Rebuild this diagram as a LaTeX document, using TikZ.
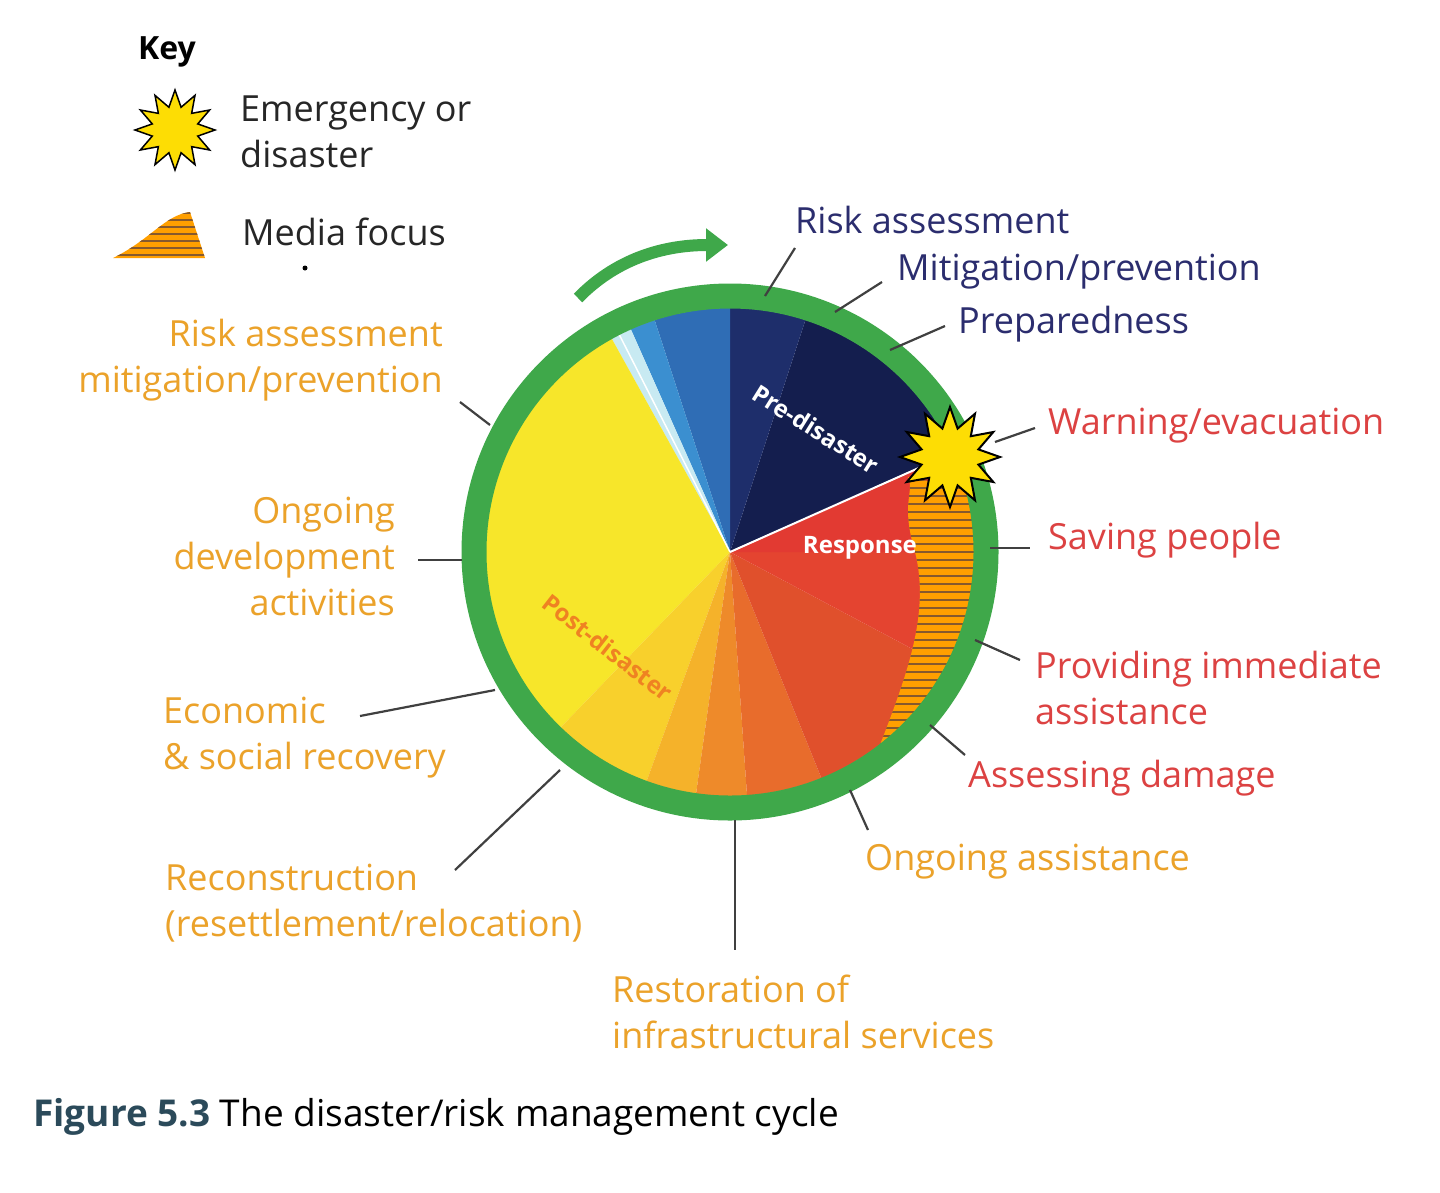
\documentclass[tikz,border=0pt]{standalone}
\usepackage{fontspec}
\setmainfont{Open Sans}
\usetikzlibrary{shapes.geometric,arrows.meta}
\definecolor{navy}{HTML}{2B2D6E}
\definecolor{lorange}{HTML}{EBA22A}
\definecolor{lred}{HTML}{DC4242}
\definecolor{ringgreen}{HTML}{3FA84A}
\tikzset{
  lab/.style={font=\fontsize{36}{46}\selectfont, inner sep=0pt},
  leader/.style={draw=black!75, line width=2.2pt},
  starshape/.style={star, star points=12, star point ratio=1.7, fill=yellow!80!orange, draw=black, line width=2pt}
}
\begin{document}
\begin{tikzpicture}[x=1pt,y=-1pt]
\useasboundingbox[fill=white] (0,0) rectangle (1440,1192);
% ---- pie ----
\begin{scope}[shift={(730,552)},yscale=-1]
  \def\R{244}
  \foreach \a/\b/\c in {24/72/141E4E, 72/90/1E2E6B, 90/108/2F6DB5, 108/114/3B8FD0, 114/119/C8EAF2,
     119/226/F7E62A, 226/250/F8D02C, 250/262/F5B22A, 262/274/EE8A2A, 274/292/E86C2C,
     292/332/E0502C, 332/0/E44430, 0/24/E23A32}{
    \definecolor{tmp}{HTML}{\c}
    \fill[tmp] (0,0) -- (\a:\R) arc[start angle=\a, end angle={\b<\a ? \b+360 : \b}, radius=\R] -- cycle;
  }
  \draw[white, line width=2pt] (0,0) -- (24:\R);
  \draw[white, line width=1.5pt] (0,0) -- (117:\R);
  % media focus
  \begin{scope}
    \clip (15:\R) arc[start angle=15,end angle=-52,radius=\R] .. controls (178,-120) and (200,-60) .. (185,0) .. controls (170,50) and (185,60) .. (178,75) -- cycle;
    \fill[orange!75!yellow] (150,-200) rectangle (250,80);
    \foreach \y in {-200,-192,...,80} \draw[brown!70!black, line width=1.2pt] (150,\y) -- (250,\y);
  \end{scope}
  \draw[ringgreen, line width=25pt] (0,0) circle[radius=256];
  \node[font=\bfseries\fontsize{24}{28}\selectfont, text=white, rotate=-32] at (55:150) {Pre-disaster};
  \node[font=\bfseries\fontsize{24}{28}\selectfont, text=white] at (2:130) {Response};
  \node[font=\bfseries\fontsize{24}{28}\selectfont, text=lorange!80!red, rotate=-38] at (218:155) {Post-disaster};
\end{scope}
\node[starshape, minimum size=100pt] (st) at (950,457) {};
% green arrow
\draw[ringgreen, line width=12pt, -{Triangle[length=22pt,width=32pt]}] (578,298) .. controls (620,255) and (670,245) .. (728,245);
% ---- leaders & labels ----
\foreach \s/\e in {{(765,296)}/{(795,248)}, {(835,312)}/{(882,282)}, {(890,350)}/{(945,326)},
  {(995,442)}/{(1035,428)}, {(990,548)}/{(1030,548)}, {(975,640)}/{(1020,660)}, {(930,725)}/{(965,755)},
  {(850,790)}/{(868,830)}, {(735,820)}/{(735,950)}, {(560,770)}/{(455,870)}, {(495,690)}/{(360,716)},
  {(462,560)}/{(418,560)}, {(490,425)}/{(460,402)}}
  \draw[leader] \s -- \e;
\node[lab, text=navy, anchor=west] (l1) at (795,220) {Risk assessment};
\node[lab, text=navy, anchor=west] (l2) at (897,272) {Mitigation/prevention};
\node[lab, text=navy, anchor=west] (l3) at (958,324) {Preparedness};
\node[lab, text=lred, anchor=west] (l4) at (1048,426) {Warning/evacuation};
\node[lab, text=lred, anchor=west] (l5) at (1048,540) {Saving people};
\node[lab, text=lred, anchor=west, align=left] (l6) at (1035,688) {Providing immediate\\assistance};
\node[lab, text=lred, anchor=west] (l7) at (968,778) {Assessing damage};
\node[lab, text=lorange, anchor=west] (l8) at (865,862) {Ongoing assistance};
\node[lab, text=lorange, anchor=west, align=left] (l9) at (612,1012) {Restoration of\\infrastructural services};
\node[lab, text=lorange, anchor=west, align=left] (l10) at (165,903) {Reconstruction\\(resettlement/relocation)};
\node[lab, text=lorange, anchor=west, align=left] (l11) at (163,738) {Economic\\\& social recovery};
\node[lab, text=lorange, anchor=east, align=right] (l12) at (395,556) {Ongoing\\development\\activities};
\node[lab, text=lorange, anchor=east, align=right] (l13) at (443,360) {Risk assessment\\mitigation/prevention};
% ---- key ----
\node[lab, font=\bfseries\fontsize{32}{36}\selectfont, anchor=west] (key) at (138,52) {Key};
\node[starshape, minimum size=80pt, line width=1.5pt] (ks) at (175,130) {};
\node[lab, anchor=west, align=left, text=black!85] (kt) at (240,132) {Emergency or\\disaster};
\begin{scope}
  \clip (113,258) .. controls (150,240) and (165,215) .. (190,212) -- (205,258) -- cycle;
  \fill[orange!75!yellow] (110,205) rectangle (210,260);
  \foreach \y in {206,213,...,260} \draw[brown!70!black, line width=1.2pt] (110,\y) -- (210,\y);
\end{scope}
\node[lab, anchor=west, text=black!85] (km) at (242,232) {Media focus};
\fill[black] (305,268) circle[radius=2.5];
% caption
\node[anchor=west, inner sep=0pt, font=\fontsize{37}{42}\selectfont] (cap) at (33,1117) {\textbf{\color[HTML]{2B4A5A}Figure 5.3} The disaster/risk management cycle};
\end{tikzpicture}
\end{document}
